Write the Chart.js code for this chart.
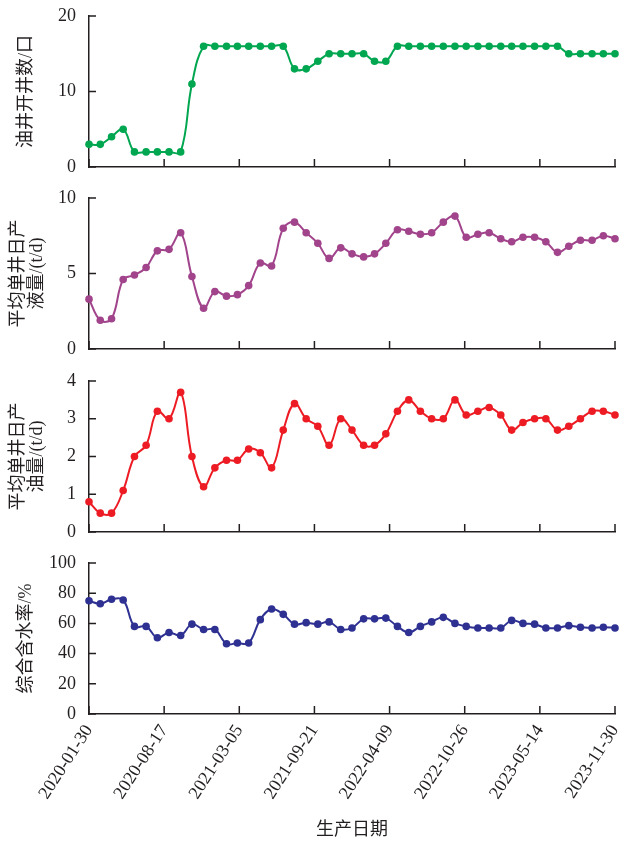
<!DOCTYPE html>
<html>
<head>
<meta charset="utf-8">
<script src="https://cdn.jsdelivr.net/npm/chart.js@4.4.1/dist/chart.umd.min.js"></script>
<style>
  body { margin: 0; background: #fff; }
  canvas { position: absolute; left: 0; }
</style>
</head>
<body>
<canvas id="c1" width="619" height="182" style="top:0"></canvas>
<canvas id="c2" width="619" height="182" style="top:182px"></canvas>
<canvas id="c3" width="619" height="182" style="top:364px"></canvas>
<canvas id="c4" width="619" height="295" style="top:546px"></canvas>
<script>
// 月度生产数据 (2020-01 ~ 2023-11)
const dates = [
  '2020-01-30','2020-02-29','2020-03-30','2020-04-30','2020-05-30','2020-06-30','2020-07-30','2020-08-30','2020-09-30','2020-10-30','2020-11-30','2020-12-30',
  '2021-01-30','2021-02-28','2021-03-30','2021-04-30','2021-05-30','2021-06-30','2021-07-30','2021-08-30','2021-09-30','2021-10-30','2021-11-30','2021-12-30',
  '2022-01-30','2022-02-28','2022-03-30','2022-04-30','2022-05-30','2022-06-30','2022-07-30','2022-08-30','2022-09-30','2022-10-30','2022-11-30','2022-12-30',
  '2023-01-30','2023-02-28','2023-03-30','2023-04-30','2023-05-30','2023-06-30','2023-07-30','2023-08-30','2023-09-30','2023-10-30','2023-11-30'
];
const xTickLabels = ['2020-01-30','2020-08-17','2021-03-05','2021-09-21','2022-04-09','2022-10-26','2023-05-14','2023-11-30'];

const openWells = [3,3,4,5,2,2,2,2,2,11, 16,16,16,16,16,16,16,16,13,13, 14,15,15,15,15,14,14,16,16,16,
  16,16,16,16,16,16,16,16,16,16, 16,16,15,15,15,15,15];
const liquidRate = [3.3,1.9,2.0,4.6,4.9,5.4,6.5,6.6,7.7,4.8, 2.7,3.8,3.5,3.6,4.2,5.7,5.5,8.0,8.4,7.7,
  7.0,6.0,6.7,6.3,6.1,6.3,7.0,7.9,7.8,7.6, 7.7,8.4,8.8,7.4,7.6,7.7,7.3,7.1,7.4,7.4, 7.1,6.4,6.8,7.2,7.2,7.5,7.3];
const oilRate = [0.8,0.5,0.5,1.1,2.0,2.3,3.2,3.0,3.7,2.0, 1.2,1.7,1.9,1.9,2.2,2.1,1.7,2.7,3.4,3.0,
  2.8,2.3,3.0,2.7,2.3,2.3,2.6,3.2,3.5,3.2, 3.0,3.0,3.5,3.1,3.2,3.3,3.1,2.7,2.9,3.0, 3.0,2.7,2.8,3.0,3.2,3.2,3.1];
const waterCut = [75,73,76,75.5,58,58,50.5,54,52,59.5, 56,56,46.5,47,47,62.5,69.5,66,59.5,60.5,
  59.5,61,56,57,63,63,63.5,58,54,58, 61,64,60,58,57,57,57,62,60,59.5, 57,57,58.5,57.5,57,57.5,57];

const day = s => (Date.parse(s) - Date.parse(dates[0])) / 864e5;
const FONT = '"Liberation Serif", "Noto Sans CJK SC", serif';
const INK = '#231f20';

// 刻度朝内
const inwardTicks = {
  id: 'inwardTicks',
  beforeDatasetsDraw(chart) {
    const { ctx, chartArea: a, scales: { x, y } } = chart;
    ctx.save();
    ctx.strokeStyle = INK;
    ctx.lineWidth = 1.5;
    ctx.beginPath();
    x.ticks.forEach(t => {
      const px = x.getPixelForValue(t.value);
      ctx.moveTo(px, a.bottom);
      ctx.lineTo(px, a.bottom - 8);
    });
    y.ticks.forEach(t => {
      const py = y.getPixelForValue(t.value);
      ctx.moveTo(a.left, py);
      ctx.lineTo(a.left + 7, py);
    });
    ctx.stroke();
    ctx.restore();
  }
};

function makePanel(id, values, color, yMax, yStep, title, titlePad, padTop, xHeight, isBottom) {
  new Chart(document.getElementById(id), {
    type: 'line',
    data: {
      datasets: [{
        data: values.map((v, i) => ({ x: day(dates[i]), y: v })),
        borderColor: color,
        backgroundColor: color,
        borderWidth: 2,
        pointRadius: 3.8,
        pointBorderWidth: 0,
        tension: 0.4,
        clip: false
      }]
    },
    options: {
      responsive: false,
      animation: false,
      layout: { padding: { top: padTop, right: 4, bottom: 0, left: 0 } },
      plugins: { legend: { display: false }, tooltip: { enabled: false } },
      scales: {
        x: {
          type: 'linear',
          min: 0,
          max: day(xTickLabels[xTickLabels.length - 1]),
          afterBuildTicks: s => { s.ticks = xTickLabels.map(l => ({ value: day(l) })); },
          afterFit: s => { s.height = xHeight; s.paddingLeft = 0; s.paddingRight = 0; },
          grid: { display: false, drawTicks: false },
          border: { display: true, color: INK, width: 1.5 },
          ticks: {
            display: isBottom,
            autoSkip: false,
            minRotation: 57,
            maxRotation: 57,
            padding: 7,
            color: INK,
            font: { family: FONT, size: 18 },
            callback: (v, i) => xTickLabels[i]
          },
          title: {
            display: isBottom,
            text: '生产日期',
            color: INK,
            font: { family: FONT, size: 18 },
            padding: { top: 4, bottom: 0 }
          }
        },
        y: {
          min: 0,
          max: yMax,
          afterFit: s => { s.width = 89; s.paddingTop = 0; s.paddingBottom = 0; },
          grid: { display: false, drawTicks: false },
          border: { display: true, color: INK, width: 1.5 },
          ticks: { stepSize: yStep, padding: 13, color: INK, font: { family: FONT, size: 18 } },
          title: {
            display: true,
            text: title,
            color: INK,
            font: { family: FONT, size: 18, lineHeight: 1.1 },
            padding: { top: titlePad, bottom: 0 }
          }
        }
      }
    },
    plugins: [inwardTicks]
  });
}

makePanel('c1', openWells, '#00a650', 20, 10, '油井开井数/口', 16, 16, 15, false);
makePanel('c2', liquidRate, '#a1448c', 10, 5, ['平均单井日产', '液量/(t/d)'], 8, 16, 15, false);
makePanel('c3', oilRate, '#ed1c24', 4, 1, ['平均单井日产', '油量/(t/d)'], 8, 17, 14, false);
makePanel('c4', waterCut, '#2e3192', 100, 20, '综合含水率/%', 16, 17, 127, true);
</script>
</body>
</html>
